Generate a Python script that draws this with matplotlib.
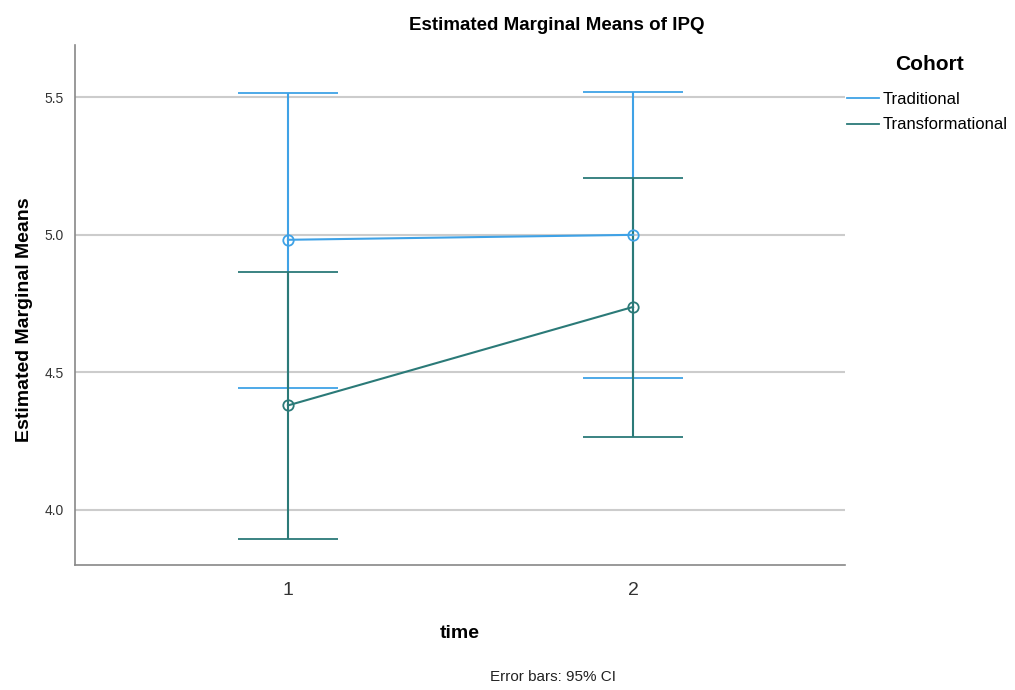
import matplotlib
matplotlib.use("Agg")
import matplotlib.pyplot as plt
from matplotlib.lines import Line2D
import numpy as np

plt.rcParams['font.family'] = ['Liberation Sans', 'DejaVu Sans']

# data
times = [1, 2]
trad_mean = [4.982, 5.000]
trad_lo = [4.442, 4.480]
trad_hi = [5.515, 5.520]
trans_mean = [4.380, 4.738]
trans_lo = [3.895, 4.267]
trans_hi = [4.865, 5.207]

blue = '#3fa2e6'
teal = '#2b7a78'

fig = plt.figure(figsize=(10.15, 6.9), dpi=100)
ax = fig.add_axes([75/1015, 125/690, 770/1015, 520/690])

for mean, lo, hi, col, name in [(trad_mean, trad_lo, trad_hi, blue, 'Traditional'),
                                (trans_mean, trans_lo, trans_hi, teal, 'Transformational')]:
    mean = np.array(mean)
    err = [mean - np.array(lo), np.array(hi) - mean]
    ax.errorbar(times, mean, yerr=err, color=col, lw=1.5, capsize=36, capthick=1.8,
                marker='o', markersize=7.5, markerfacecolor='none', markeredgewidth=1.3,
                label=name, zorder=3)

ax.set_xlim(0.383, 2.614)
ax.set_ylim(3.8, 5.69)
ax.set_yticks([4.0, 4.5, 5.0, 5.5])
ax.set_yticklabels(['4.0', '4.5', '5.0', '5.5'], fontsize=10, color='#333333')
ax.set_xticks(times)
ax.set_xticklabels(['1', '2'], fontsize=14, color='#333333')
ax.tick_params(length=0, pad=12)
ax.tick_params(axis='y', pad=8)
ax.grid(axis='y', color='#cccccc', lw=1.5, zorder=0)
for s in ['top', 'right']:
    ax.spines[s].set_visible(False)
for s in ['left', 'bottom']:
    ax.spines[s].set_color('#888888')
    ax.spines[s].set_linewidth(1.2)

fig.text(557/1015, 1 - 25/690, 'Estimated Marginal Means of IPQ', fontsize=13.5,
         fontweight='bold', ha='center', va='center')
fig.text(25/1015, 1 - 320/690, 'Estimated Marginal Means', fontsize=14, fontweight='bold',
         rotation=90, ha='center', va='center')
fig.text(460/1015, 1 - 633/690, 'time', fontsize=14, fontweight='bold', ha='center', va='center')
fig.text(553/1015, 1 - 677/690, 'Error bars: 95% CI', fontsize=11, ha='center', va='center',
         color='#222222')

# legend like SPSS: bold title above plain line handles
handles = [Line2D([], [], color=blue, lw=1.3), Line2D([], [], color=teal, lw=1.3)]
fig.legend(handles, ['Traditional', 'Transformational'], loc='upper left',
           bbox_to_anchor=(847/1015, 1 - 92/690), frameon=False, fontsize=12,
           handlelength=1.9, handletextpad=0.25, labelspacing=0.62, borderaxespad=0,
           borderpad=0)
fig.text(930/1015, 1 - 65/690, 'Cohort', fontsize=15, fontweight='bold', ha='center', va='center')

fig.savefig('out.png', dpi=100)
